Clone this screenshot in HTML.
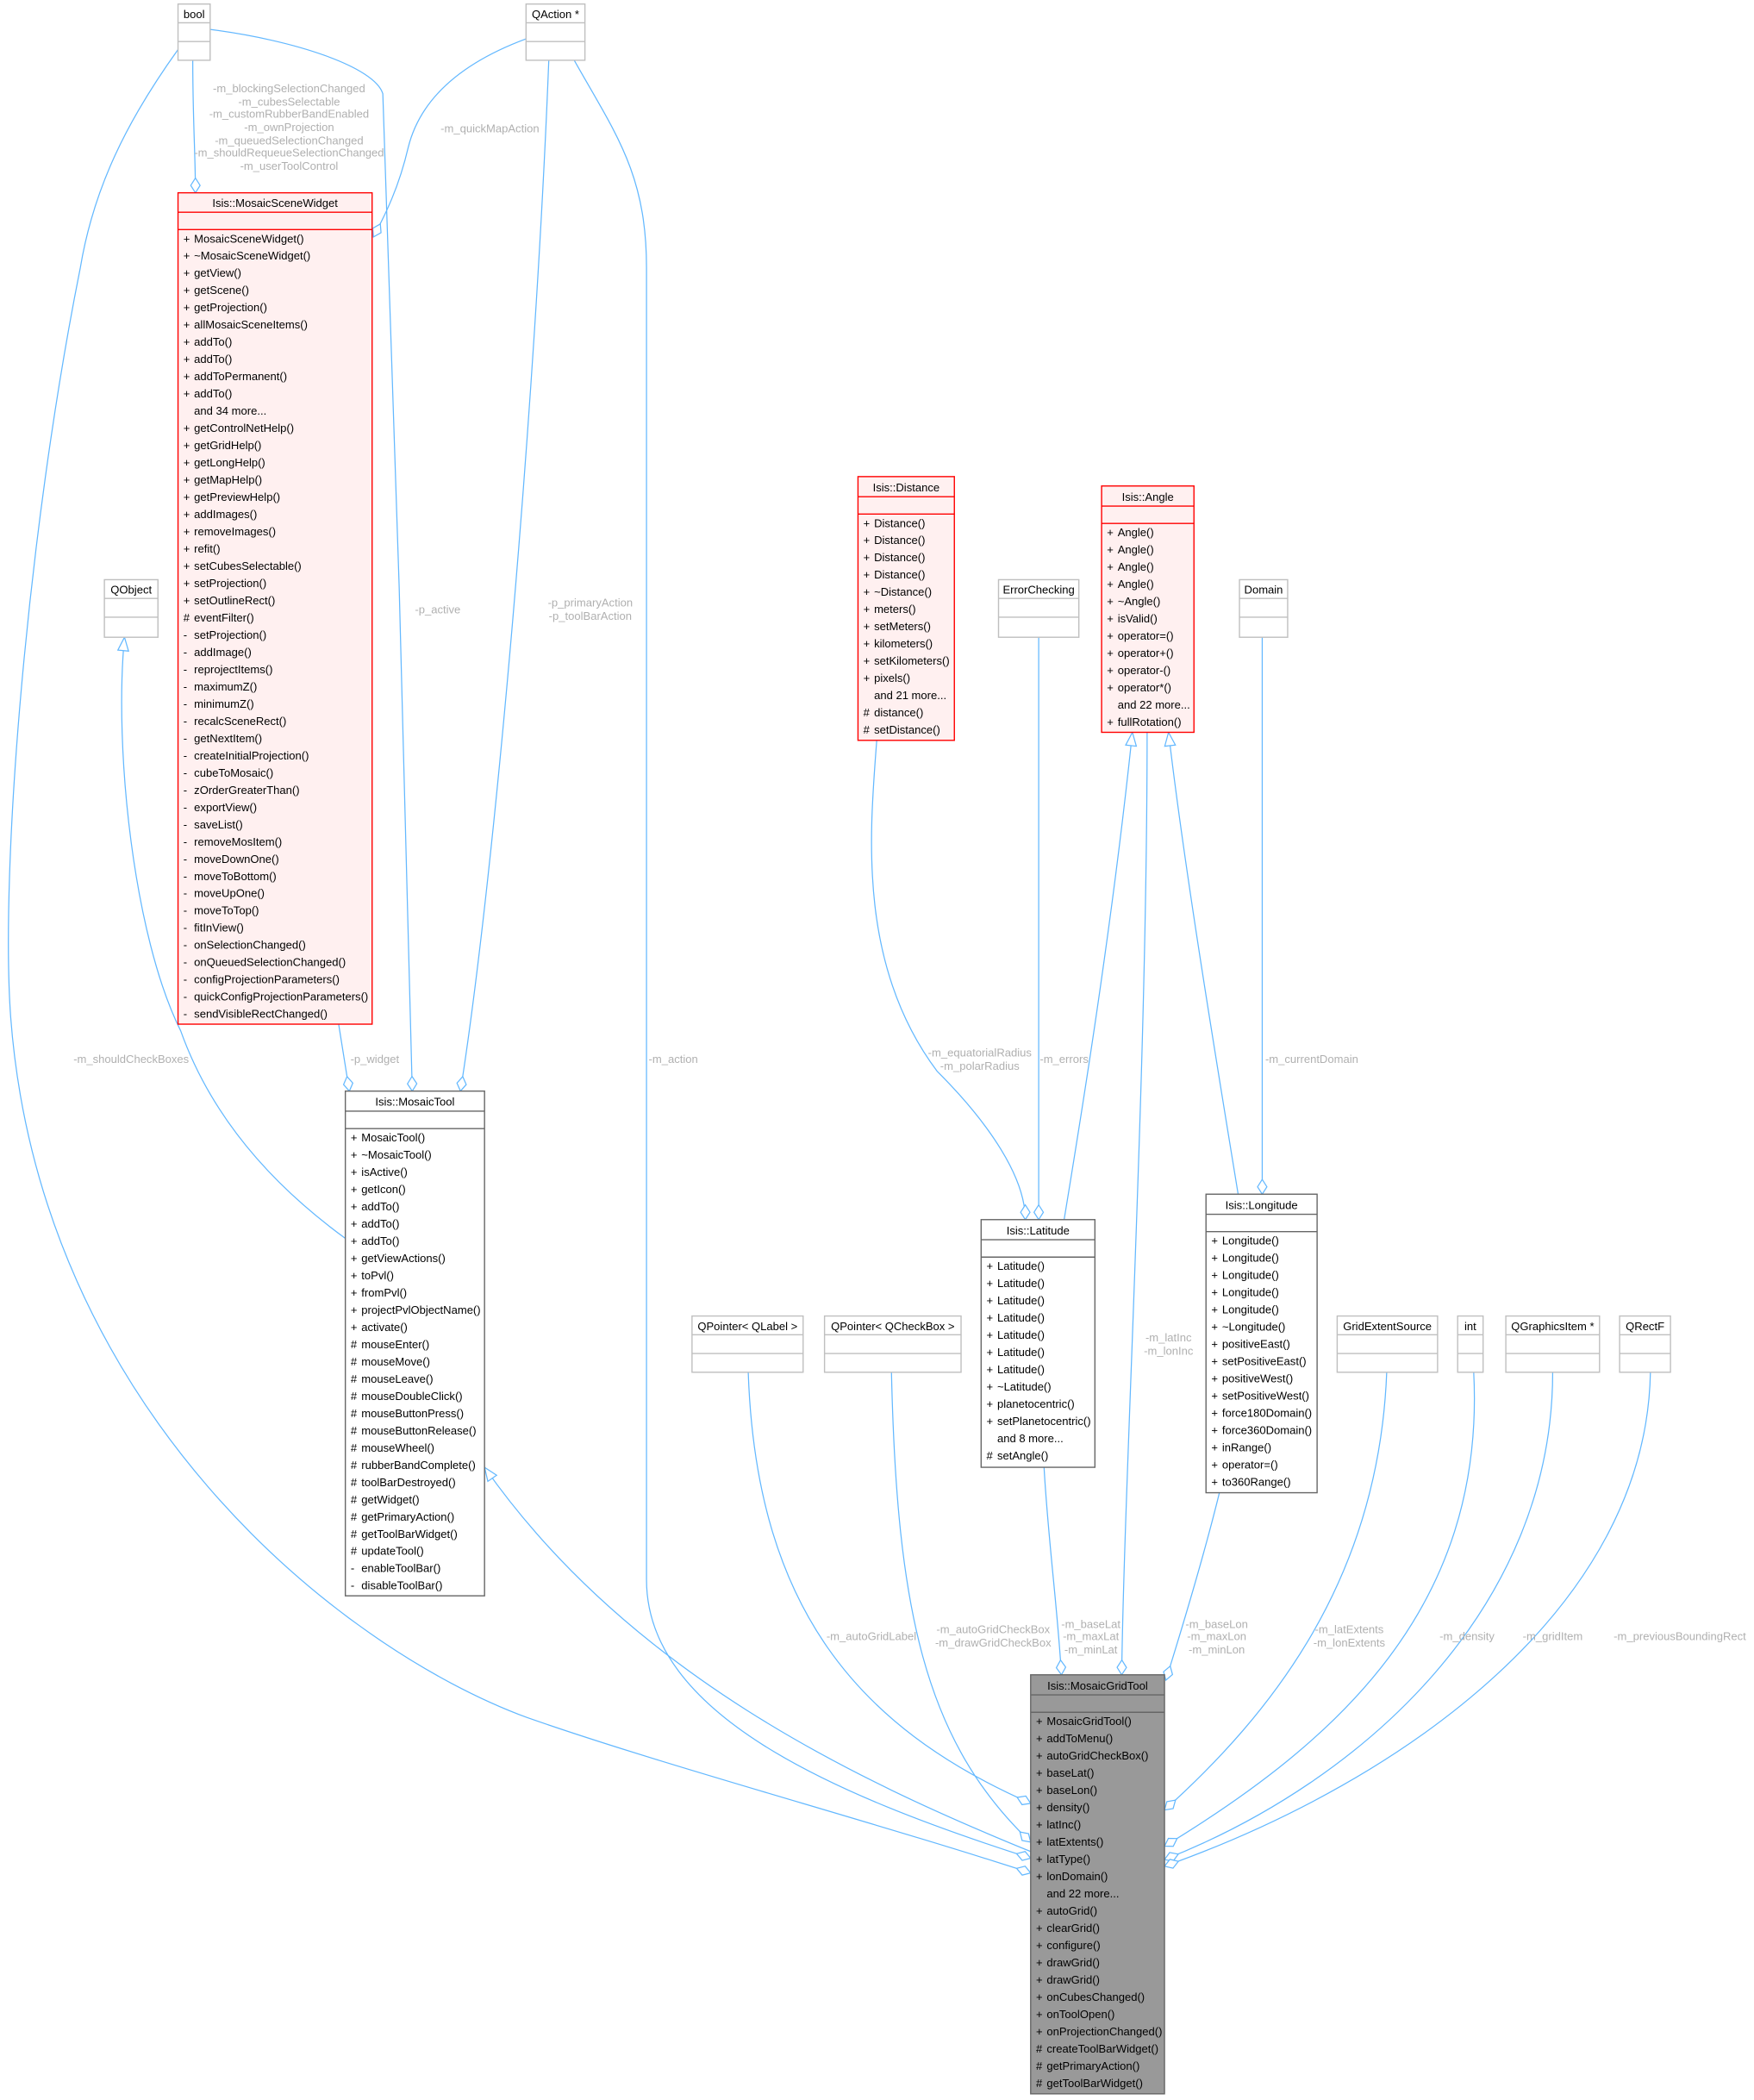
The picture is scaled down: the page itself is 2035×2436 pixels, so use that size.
<!DOCTYPE html>
<html><head><meta charset="utf-8"><style>
html,body{margin:0;padding:0;background:#fff;}
svg{display:block;}
text{font-family:"Liberation Sans",sans-serif;font-size:8.4px;fill:#000;}
.l{fill:#b0b0b0;text-anchor:middle;}
.h{text-anchor:middle;}
.e{fill:none;stroke:#63b8ff;stroke-width:0.8;}
.g{fill:#fff;stroke:#bfbfbf;stroke-width:0.9;}
.gl{stroke:#bfbfbf;stroke-width:0.9;}
.r{fill:#fff0f0;stroke:#ff0000;stroke-width:0.9;}
.rl{stroke:#ff0000;stroke-width:0.9;}
.k{fill:#fff;stroke:#666;stroke-width:0.9;}
.kl{stroke:#666;stroke-width:0.9;}
.d{fill:#999;stroke:#666;stroke-width:0.9;}
</style></head><body>
<svg width="2035" height="2436" viewBox="0 0 1310.4 1568.6" xmlns="http://www.w3.org/2000/svg">
<defs>
<marker id="dm" markerUnits="userSpaceOnUse" markerWidth="14" markerHeight="10" refX="11" refY="3.5" orient="auto" viewBox="-1 -1 14 9">
<path d="M0,3.5 L5.5,0 L11,3.5 L5.5,7 Z" fill="#fff" stroke="#63b8ff" stroke-width="0.8"/></marker>
<marker id="tr" markerUnits="userSpaceOnUse" markerWidth="13" markerHeight="10" refX="10" refY="4" orient="auto" viewBox="-1 -1 13 10">
<path d="M0,0 L10,4 L0,8 Z" fill="#fff" stroke="#63b8ff" stroke-width="0.8"/></marker>
</defs>

<!-- edges -->
<path class="e" marker-end="url(#dm)" d="M144,45 C144,90 146,115 146,144"/>
<path class="e" marker-end="url(#dm)" d="M157,22 C220,30 280,50 286,70 C292,200 306,700 308,815"/>
<path class="e" marker-end="url(#dm)" d="M133,37 C95,90 70,140 60,200 C20,400 0,650 8,760 C30,1050 250,1230 394,1283 C500,1320 650,1360 770,1399"/>
<path class="e" marker-end="url(#dm)" d="M393,29 C350,45 315,70 305,110 C298,140 288,160 279,177"/>
<path class="e" marker-end="url(#dm)" d="M410,45 C400,300 370,650 344,815"/>
<path class="e" marker-end="url(#dm)" d="M429,45 C460,100 483,130 483,200 L483,1180 C483,1280 620,1340 770,1388"/>
<path class="e" marker-end="url(#tr)" d="M258,925 C210,890 160,840 135,770 C100,700 85,560 93,476"/>
<path class="e" marker-end="url(#dm)" d="M253,765 L261,815"/>
<path class="e" marker-end="url(#tr)" d="M770,1383 C640,1330 470,1250 362,1096"/>
<path class="e" marker-end="url(#dm)" d="M559,1025 C565,1200 640,1290 770,1347"/>
<path class="e" marker-end="url(#dm)" d="M666,1025 C670,1200 690,1300 770,1376"/>
<path class="e" marker-end="url(#dm)" d="M655,553 C650,620 640,720 700,800 C740,840 766,880 766,911"/>
<path class="e" marker-end="url(#dm)" d="M776,476 L776,911"/>
<path class="e" marker-end="url(#tr)" d="M795,911 C805,850 830,700 846,547"/>
<path class="e" marker-end="url(#dm)" d="M857,547 C857,800 840,1100 838,1251"/>
<path class="e" marker-end="url(#tr)" d="M925,892 C910,800 885,650 873,547"/>
<path class="e" marker-end="url(#dm)" d="M943,476 L943,892"/>
<path class="e" marker-end="url(#dm)" d="M780,1096 C783,1150 790,1200 793,1251"/>
<path class="e" marker-end="url(#dm)" d="M911,1115 C900,1160 885,1210 871,1255"/>
<path class="e" marker-end="url(#dm)" d="M1036,1025 C1030,1180 950,1280 870,1352"/>
<path class="e" marker-end="url(#dm)" d="M1101,1025 C1110,1200 1000,1300 870,1379"/>
<path class="e" marker-end="url(#dm)" d="M1160,1025 C1160,1200 1020,1330 870,1389"/>
<path class="e" marker-end="url(#dm)" d="M1233,1025 C1230,1200 1050,1330 870,1394"/>

<!-- edge labels -->
<text class="l" x="216" y="69">-m_blockingSelectionChanged</text>
<text class="l" x="216" y="79">-m_cubesSelectable</text>
<text class="l" x="216" y="88">-m_customRubberBandEnabled</text>
<text class="l" x="216" y="98">-m_ownProjection</text>
<text class="l" x="216" y="108">-m_queuedSelectionChanged</text>
<text class="l" x="216" y="117">-m_shouldRequeueSelectionChanged</text>
<text class="l" x="216" y="127">-m_userToolControl</text>
<text class="l" x="366" y="99">-m_quickMapAction</text>
<text class="l" x="327" y="458">-p_active</text>
<text class="l" x="441" y="453">-p_primaryAction</text>
<text class="l" x="441" y="463">-p_toolBarAction</text>
<text class="l" x="98" y="794">-m_shouldCheckBoxes</text>
<text class="l" x="280" y="794">-p_widget</text>
<text class="l" x="503" y="794">-m_action</text>
<text class="l" x="732" y="789">-m_equatorialRadius</text>
<text class="l" x="732" y="799">-m_polarRadius</text>
<text class="l" x="795" y="794">-m_errors</text>
<text class="l" x="980" y="794">-m_currentDomain</text>
<text class="l" x="873" y="1002">-m_latInc</text>
<text class="l" x="873" y="1012">-m_lonInc</text>
<text class="l" x="651" y="1225">-m_autoGridLabel</text>
<text class="l" x="742" y="1220">-m_autoGridCheckBox</text>
<text class="l" x="742" y="1230">-m_drawGridCheckBox</text>
<text class="l" x="815" y="1216">-m_baseLat</text>
<text class="l" x="815" y="1225">-m_maxLat</text>
<text class="l" x="815" y="1235">-m_minLat</text>
<text class="l" x="909" y="1216">-m_baseLon</text>
<text class="l" x="909" y="1225">-m_maxLon</text>
<text class="l" x="909" y="1235">-m_minLon</text>
<text class="l" x="1008" y="1220">-m_latExtents</text>
<text class="l" x="1008" y="1230">-m_lonExtents</text>
<text class="l" x="1096" y="1225">-m_density</text>
<text class="l" x="1160" y="1225">-m_gridItem</text>
<text class="l" x="1255" y="1225">-m_previousBoundingRect</text>

<!-- simple gray nodes -->
<g>
<rect class="g" x="133" y="3" width="24" height="42"/><line class="gl" x1="133" y1="17" x2="157" y2="17"/><line class="gl" x1="133" y1="31" x2="157" y2="31"/><text class="h" x="145" y="13.5">bool</text>
<rect class="g" x="393" y="3" width="44" height="42"/><line class="gl" x1="393" y1="17" x2="437" y2="17"/><line class="gl" x1="393" y1="31" x2="437" y2="31"/><text class="h" x="415" y="13.5">QAction *</text>
<rect class="g" x="78" y="433" width="40" height="43"/><line class="gl" x1="78" y1="447" x2="118" y2="447"/><line class="gl" x1="78" y1="461" x2="118" y2="461"/><text class="h" x="98" y="443.5">QObject</text>
<rect class="g" x="746" y="433" width="60" height="43"/><line class="gl" x1="746" y1="447" x2="806" y2="447"/><line class="gl" x1="746" y1="461" x2="806" y2="461"/><text class="h" x="776" y="443.5">ErrorChecking</text>
<rect class="g" x="926" y="433" width="36" height="43"/><line class="gl" x1="926" y1="447" x2="962" y2="447"/><line class="gl" x1="926" y1="461" x2="962" y2="461"/><text class="h" x="944" y="443.5">Domain</text>
<rect class="g" x="517" y="983" width="83" height="42"/><line class="gl" x1="517" y1="997" x2="600" y2="997"/><line class="gl" x1="517" y1="1011" x2="600" y2="1011"/><text class="h" x="558.5" y="993.5">QPointer&lt; QLabel &gt;</text>
<rect class="g" x="616" y="983" width="102" height="42"/><line class="gl" x1="616" y1="997" x2="718" y2="997"/><line class="gl" x1="616" y1="1011" x2="718" y2="1011"/><text class="h" x="667" y="993.5">QPointer&lt; QCheckBox &gt;</text>
<rect class="g" x="999" y="983" width="75" height="42"/><line class="gl" x1="999" y1="997" x2="1074" y2="997"/><line class="gl" x1="999" y1="1011" x2="1074" y2="1011"/><text class="h" x="1036.5" y="993.5">GridExtentSource</text>
<rect class="g" x="1089" y="983" width="19" height="42"/><line class="gl" x1="1089" y1="997" x2="1108" y2="997"/><line class="gl" x1="1089" y1="1011" x2="1108" y2="1011"/><text class="h" x="1098.5" y="993.5">int</text>
<rect class="g" x="1125" y="983" width="70" height="42"/><line class="gl" x1="1125" y1="997" x2="1195" y2="997"/><line class="gl" x1="1125" y1="1011" x2="1195" y2="1011"/><text class="h" x="1160" y="993.5">QGraphicsItem *</text>
<rect class="g" x="1210" y="983" width="38" height="42"/><line class="gl" x1="1210" y1="997" x2="1248" y2="997"/><line class="gl" x1="1210" y1="1011" x2="1248" y2="1011"/><text class="h" x="1229" y="993.5">QRectF</text>
</g>

<!-- MosaicSceneWidget -->
<rect class="r" x="133" y="144" width="145" height="621"/>
<line class="rl" x1="133" y1="158.5" x2="278" y2="158.5"/><line class="rl" x1="133" y1="171.5" x2="278" y2="171.5"/>
<text class="h" x="205.5" y="154.5">Isis::MosaicSceneWidget</text>
<g transform="translate(137,181.1)">
<text y="0">+</text><text x="8" y="0">MosaicSceneWidget()</text>
<text y="12.87">+</text><text x="8" y="12.87">~MosaicSceneWidget()</text>
<text y="25.74">+</text><text x="8" y="25.74">getView()</text>
<text y="38.61">+</text><text x="8" y="38.61">getScene()</text>
<text y="51.48">+</text><text x="8" y="51.48">getProjection()</text>
<text y="64.35">+</text><text x="8" y="64.35">allMosaicSceneItems()</text>
<text y="77.22">+</text><text x="8" y="77.22">addTo()</text>
<text y="90.09">+</text><text x="8" y="90.09">addTo()</text>
<text y="102.96">+</text><text x="8" y="102.96">addToPermanent()</text>
<text y="115.83">+</text><text x="8" y="115.83">addTo()</text>
<text x="8" y="128.7">and 34 more...</text>
<text y="141.57">+</text><text x="8" y="141.57">getControlNetHelp()</text>
<text y="154.44">+</text><text x="8" y="154.44">getGridHelp()</text>
<text y="167.31">+</text><text x="8" y="167.31">getLongHelp()</text>
<text y="180.18">+</text><text x="8" y="180.18">getMapHelp()</text>
<text y="193.05">+</text><text x="8" y="193.05">getPreviewHelp()</text>
<text y="205.92">+</text><text x="8" y="205.92">addImages()</text>
<text y="218.79">+</text><text x="8" y="218.79">removeImages()</text>
<text y="231.66">+</text><text x="8" y="231.66">refit()</text>
<text y="244.53">+</text><text x="8" y="244.53">setCubesSelectable()</text>
<text y="257.4">+</text><text x="8" y="257.4">setProjection()</text>
<text y="270.27">+</text><text x="8" y="270.27">setOutlineRect()</text>
<text y="283.14">#</text><text x="8" y="283.14">eventFilter()</text>
<text y="296.01">-</text><text x="8" y="296.01">setProjection()</text>
<text y="308.88">-</text><text x="8" y="308.88">addImage()</text>
<text y="321.75">-</text><text x="8" y="321.75">reprojectItems()</text>
<text y="334.62">-</text><text x="8" y="334.62">maximumZ()</text>
<text y="347.49">-</text><text x="8" y="347.49">minimumZ()</text>
<text y="360.36">-</text><text x="8" y="360.36">recalcSceneRect()</text>
<text y="373.23">-</text><text x="8" y="373.23">getNextItem()</text>
<text y="386.1">-</text><text x="8" y="386.1">createInitialProjection()</text>
<text y="398.97">-</text><text x="8" y="398.97">cubeToMosaic()</text>
<text y="411.84">-</text><text x="8" y="411.84">zOrderGreaterThan()</text>
<text y="424.71">-</text><text x="8" y="424.71">exportView()</text>
<text y="437.58">-</text><text x="8" y="437.58">saveList()</text>
<text y="450.45">-</text><text x="8" y="450.45">removeMosItem()</text>
<text y="463.32">-</text><text x="8" y="463.32">moveDownOne()</text>
<text y="476.19">-</text><text x="8" y="476.19">moveToBottom()</text>
<text y="489.06">-</text><text x="8" y="489.06">moveUpOne()</text>
<text y="501.93">-</text><text x="8" y="501.93">moveToTop()</text>
<text y="514.8">-</text><text x="8" y="514.8">fitInView()</text>
<text y="527.67">-</text><text x="8" y="527.67">onSelectionChanged()</text>
<text y="540.54">-</text><text x="8" y="540.54">onQueuedSelectionChanged()</text>
<text y="553.41">-</text><text x="8" y="553.41">configProjectionParameters()</text>
<text y="566.28">-</text><text x="8" y="566.28">quickConfigProjectionParameters()</text>
<text y="579.15">-</text><text x="8" y="579.15">sendVisibleRectChanged()</text>
</g>

<!-- MosaicTool -->
<rect class="k" x="258" y="815" width="104" height="377"/>
<line class="kl" x1="258" y1="830" x2="362" y2="830"/><line class="kl" x1="258" y1="843" x2="362" y2="843"/>
<text class="h" x="310" y="826">Isis::MosaicTool</text>
<g transform="translate(262,852.6)">
<text y="0">+</text><text x="8" y="0">MosaicTool()</text>
<text y="12.87">+</text><text x="8" y="12.87">~MosaicTool()</text>
<text y="25.74">+</text><text x="8" y="25.74">isActive()</text>
<text y="38.61">+</text><text x="8" y="38.61">getIcon()</text>
<text y="51.48">+</text><text x="8" y="51.48">addTo()</text>
<text y="64.35">+</text><text x="8" y="64.35">addTo()</text>
<text y="77.22">+</text><text x="8" y="77.22">addTo()</text>
<text y="90.09">+</text><text x="8" y="90.09">getViewActions()</text>
<text y="102.96">+</text><text x="8" y="102.96">toPvl()</text>
<text y="115.83">+</text><text x="8" y="115.83">fromPvl()</text>
<text y="128.7">+</text><text x="8" y="128.7">projectPvlObjectName()</text>
<text y="141.57">+</text><text x="8" y="141.57">activate()</text>
<text y="154.44">#</text><text x="8" y="154.44">mouseEnter()</text>
<text y="167.31">#</text><text x="8" y="167.31">mouseMove()</text>
<text y="180.18">#</text><text x="8" y="180.18">mouseLeave()</text>
<text y="193.05">#</text><text x="8" y="193.05">mouseDoubleClick()</text>
<text y="205.92">#</text><text x="8" y="205.92">mouseButtonPress()</text>
<text y="218.79">#</text><text x="8" y="218.79">mouseButtonRelease()</text>
<text y="231.66">#</text><text x="8" y="231.66">mouseWheel()</text>
<text y="244.53">#</text><text x="8" y="244.53">rubberBandComplete()</text>
<text y="257.4">#</text><text x="8" y="257.4">toolBarDestroyed()</text>
<text y="270.27">#</text><text x="8" y="270.27">getWidget()</text>
<text y="283.14">#</text><text x="8" y="283.14">getPrimaryAction()</text>
<text y="296.01">#</text><text x="8" y="296.01">getToolBarWidget()</text>
<text y="308.88">#</text><text x="8" y="308.88">updateTool()</text>
<text y="321.75">-</text><text x="8" y="321.75">enableToolBar()</text>
<text y="334.62">-</text><text x="8" y="334.62">disableToolBar()</text>
</g>

<!-- Distance -->
<rect class="r" x="641" y="356" width="72" height="197"/>
<line class="rl" x1="641" y1="371" x2="713" y2="371"/><line class="rl" x1="641" y1="384" x2="713" y2="384"/>
<text class="h" x="677" y="367">Isis::Distance</text>
<g transform="translate(645,393.6)">
<text y="0">+</text><text x="8" y="0">Distance()</text>
<text y="12.87">+</text><text x="8" y="12.87">Distance()</text>
<text y="25.74">+</text><text x="8" y="25.74">Distance()</text>
<text y="38.61">+</text><text x="8" y="38.61">Distance()</text>
<text y="51.48">+</text><text x="8" y="51.48">~Distance()</text>
<text y="64.35">+</text><text x="8" y="64.35">meters()</text>
<text y="77.22">+</text><text x="8" y="77.22">setMeters()</text>
<text y="90.09">+</text><text x="8" y="90.09">kilometers()</text>
<text y="102.96">+</text><text x="8" y="102.96">setKilometers()</text>
<text y="115.83">+</text><text x="8" y="115.83">pixels()</text>
<text x="8" y="128.7">and 21 more...</text>
<text y="141.57">#</text><text x="8" y="141.57">distance()</text>
<text y="154.44">#</text><text x="8" y="154.44">setDistance()</text>
</g>

<!-- Angle -->
<rect class="r" x="823" y="363" width="69" height="184"/>
<line class="rl" x1="823" y1="378" x2="892" y2="378"/><line class="rl" x1="823" y1="391" x2="892" y2="391"/>
<text class="h" x="857.5" y="374">Isis::Angle</text>
<g transform="translate(827,400.6)">
<text y="0">+</text><text x="8" y="0">Angle()</text>
<text y="12.87">+</text><text x="8" y="12.87">Angle()</text>
<text y="25.74">+</text><text x="8" y="25.74">Angle()</text>
<text y="38.61">+</text><text x="8" y="38.61">Angle()</text>
<text y="51.48">+</text><text x="8" y="51.48">~Angle()</text>
<text y="64.35">+</text><text x="8" y="64.35">isValid()</text>
<text y="77.22">+</text><text x="8" y="77.22">operator=()</text>
<text y="90.09">+</text><text x="8" y="90.09">operator+()</text>
<text y="102.96">+</text><text x="8" y="102.96">operator-()</text>
<text y="115.83">+</text><text x="8" y="115.83">operator*()</text>
<text x="8" y="128.7">and 22 more...</text>
<text y="141.57">+</text><text x="8" y="141.57">fullRotation()</text>
</g>

<!-- Latitude -->
<rect class="k" x="733" y="911" width="85" height="185"/>
<line class="kl" x1="733" y1="926" x2="818" y2="926"/><line class="kl" x1="733" y1="939" x2="818" y2="939"/>
<text class="h" x="775.5" y="922">Isis::Latitude</text>
<g transform="translate(737,948.6)">
<text y="0">+</text><text x="8" y="0">Latitude()</text>
<text y="12.87">+</text><text x="8" y="12.87">Latitude()</text>
<text y="25.74">+</text><text x="8" y="25.74">Latitude()</text>
<text y="38.61">+</text><text x="8" y="38.61">Latitude()</text>
<text y="51.48">+</text><text x="8" y="51.48">Latitude()</text>
<text y="64.35">+</text><text x="8" y="64.35">Latitude()</text>
<text y="77.22">+</text><text x="8" y="77.22">Latitude()</text>
<text y="90.09">+</text><text x="8" y="90.09">~Latitude()</text>
<text y="102.96">+</text><text x="8" y="102.96">planetocentric()</text>
<text y="115.83">+</text><text x="8" y="115.83">setPlanetocentric()</text>
<text x="8" y="128.7">and 8 more...</text>
<text y="141.57">#</text><text x="8" y="141.57">setAngle()</text>
</g>

<!-- Longitude -->
<rect class="k" x="901" y="892" width="83" height="223"/>
<line class="kl" x1="901" y1="907" x2="984" y2="907"/><line class="kl" x1="901" y1="920" x2="984" y2="920"/>
<text class="h" x="942.5" y="903">Isis::Longitude</text>
<g transform="translate(905,929.6)">
<text y="0">+</text><text x="8" y="0">Longitude()</text>
<text y="12.87">+</text><text x="8" y="12.87">Longitude()</text>
<text y="25.74">+</text><text x="8" y="25.74">Longitude()</text>
<text y="38.61">+</text><text x="8" y="38.61">Longitude()</text>
<text y="51.48">+</text><text x="8" y="51.48">Longitude()</text>
<text y="64.35">+</text><text x="8" y="64.35">~Longitude()</text>
<text y="77.22">+</text><text x="8" y="77.22">positiveEast()</text>
<text y="90.09">+</text><text x="8" y="90.09">setPositiveEast()</text>
<text y="102.96">+</text><text x="8" y="102.96">positiveWest()</text>
<text y="115.83">+</text><text x="8" y="115.83">setPositiveWest()</text>
<text y="128.7">+</text><text x="8" y="128.7">force180Domain()</text>
<text y="141.57">+</text><text x="8" y="141.57">force360Domain()</text>
<text y="154.44">+</text><text x="8" y="154.44">inRange()</text>
<text y="167.31">+</text><text x="8" y="167.31">operator=()</text>
<text y="180.18">+</text><text x="8" y="180.18">to360Range()</text>
</g>

<!-- MosaicGridTool -->
<rect class="d" x="770" y="1251" width="100" height="313"/>
<line class="kl" x1="770" y1="1266" x2="870" y2="1266"/><line class="kl" x1="770" y1="1279" x2="870" y2="1279"/>
<text class="h" x="820" y="1262">Isis::MosaicGridTool</text>
<g transform="translate(774,1288.6)">
<text y="0">+</text><text x="8" y="0">MosaicGridTool()</text>
<text y="12.87">+</text><text x="8" y="12.87">addToMenu()</text>
<text y="25.74">+</text><text x="8" y="25.74">autoGridCheckBox()</text>
<text y="38.61">+</text><text x="8" y="38.61">baseLat()</text>
<text y="51.48">+</text><text x="8" y="51.48">baseLon()</text>
<text y="64.35">+</text><text x="8" y="64.35">density()</text>
<text y="77.22">+</text><text x="8" y="77.22">latInc()</text>
<text y="90.09">+</text><text x="8" y="90.09">latExtents()</text>
<text y="102.96">+</text><text x="8" y="102.96">latType()</text>
<text y="115.83">+</text><text x="8" y="115.83">lonDomain()</text>
<text x="8" y="128.7">and 22 more...</text>
<text y="141.57">+</text><text x="8" y="141.57">autoGrid()</text>
<text y="154.44">+</text><text x="8" y="154.44">clearGrid()</text>
<text y="167.31">+</text><text x="8" y="167.31">configure()</text>
<text y="180.18">+</text><text x="8" y="180.18">drawGrid()</text>
<text y="193.05">+</text><text x="8" y="193.05">drawGrid()</text>
<text y="205.92">+</text><text x="8" y="205.92">onCubesChanged()</text>
<text y="218.79">+</text><text x="8" y="218.79">onToolOpen()</text>
<text y="231.66">+</text><text x="8" y="231.66">onProjectionChanged()</text>
<text y="244.53">#</text><text x="8" y="244.53">createToolBarWidget()</text>
<text y="257.4">#</text><text x="8" y="257.4">getPrimaryAction()</text>
<text y="270.27">#</text><text x="8" y="270.27">getToolBarWidget()</text>
</g>
</svg>
</body></html>
